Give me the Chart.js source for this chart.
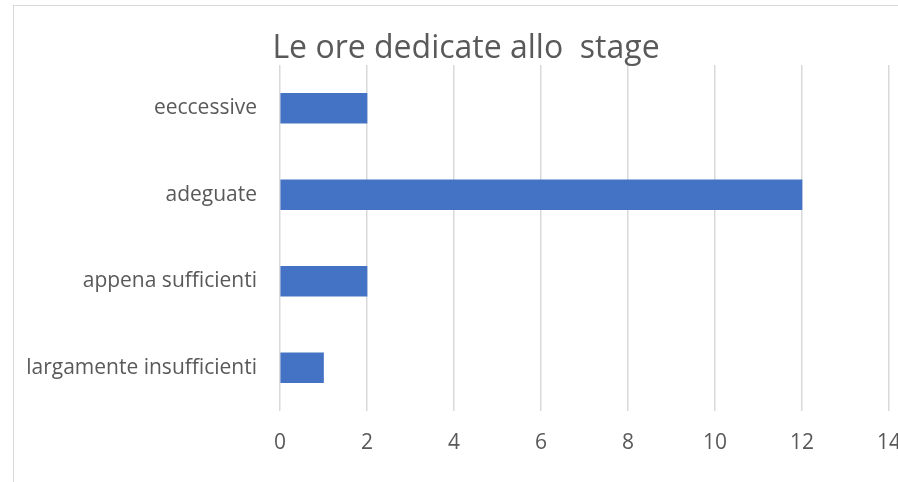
<!DOCTYPE html>
<html>
<head>
<meta charset="utf-8">
<script src="https://cdn.jsdelivr.net/npm/chart.js@4/dist/chart.umd.min.js"></script>
<style>
  html, body { margin: 0; padding: 0; background: #fff; overflow: hidden; }
  body { width: 898px; height: 482px; position: relative; }
  #frame {
    position: absolute; left: 13px; top: 5px;
    width: 904px; height: 480px;
    border: 1px solid #d9d9d9;
  }
  canvas { display: block; }
</style>
</head>
<body>
<div id="frame"><canvas id="chart" width="904" height="480"></canvas></div>
<script>
const chartTitle = 'Le ore dedicate allo  stage';
const categories = ['eeccessive', 'adeguate', 'appena sufficienti', 'largamente insufficienti'];
const values = [2, 12, 2, 1];
const xTicks = [0, 2, 4, 6, 8, 10, 12, 14];

const textColor = '#595959';
const fontFamily = '"Open Sans", "Noto Sans", sans-serif';

function buildChart() {
  const ctx = document.getElementById('chart').getContext('2d');
  return new Chart(ctx, {
    type: 'bar',
    data: {
      labels: categories,
      datasets: [{
        data: values,
        backgroundColor: '#4472c4',
        borderWidth: 0,
        barThickness: 30
      }]
    },
    options: {
      indexAxis: 'y',
      responsive: false,
      animation: false,
      layout: { padding: 0 },
      plugins: {
        legend: { display: false },
        tooltip: { enabled: false },
        title: {
          display: true,
          text: chartTitle,
          color: textColor,
          font: { family: fontFamily, size: 32, weight: 'normal', lineHeight: 1 },
          padding: { top: 27, bottom: 0 }
        }
      },
      scales: {
        x: {
          min: xTicks[0],
          max: xTicks[xTicks.length - 1],
          afterBuildTicks: scale => { scale.ticks = xTicks.map(v => ({ value: v })); },
          afterFit: scale => { scale.height = 75; },
          // invisible tick marks give the label gap without widening the right padding
          grid: { color: '#d9d9d9', lineWidth: 1.5, drawTicks: true, tickLength: 19, tickColor: 'rgba(0,0,0,0)' },
          border: { display: false },
          ticks: {
            color: textColor,
            font: { family: fontFamily, size: 21 },
            padding: 0,
            maxRotation: 0
          }
        },
        y: {
          afterFit: scale => { scale.width = 266; },
          grid: { display: false, drawTicks: false },
          border: { display: false },
          ticks: {
            color: textColor,
            font: { family: fontFamily, size: 21 },
            padding: 23
          }
        },
        // empty spacer on the right so the title stays centred on the whole frame
        spacer: {
          type: 'linear',
          position: 'right',
          afterFit: scale => { scale.width = 29; },
          grid: { display: false, drawTicks: false },
          border: { display: false },
          ticks: { display: false }
        }
      }
    }
  });
}

window.addEventListener('DOMContentLoaded', buildChart);
</script>
</body>
</html>
